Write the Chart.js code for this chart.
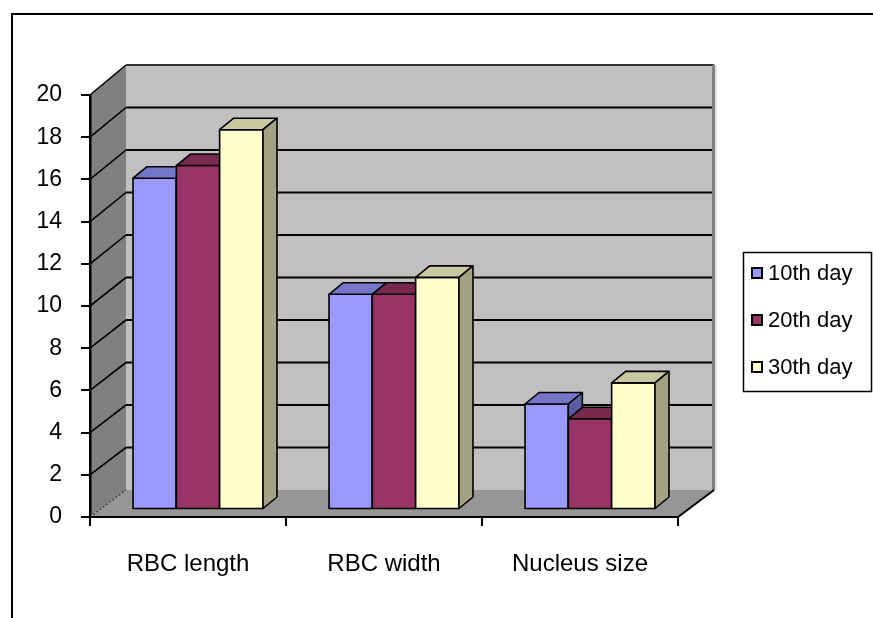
<!DOCTYPE html>
<html><head><meta charset="utf-8">
<script src="https://cdn.jsdelivr.net/npm/chart.js@4/dist/chart.umd.min.js"></script>
<style>html,body{margin:0;padding:0;background:#fff;overflow:hidden}canvas{display:block}</style>
</head><body>
<canvas id="c" width="873" height="618"></canvas>
<script>
// ---- data ----
const categories = ['RBC length', 'RBC width', 'Nucleus size'];
const seriesLabels = ['10th day', '20th day', '30th day'];
const day10 = [15.7, 10.2, 5.0];
const day20 = [16.3, 10.2, 4.3];
const day30 = [18.0, 11.0, 6.0];
const yMin = 0, yMax = 20, yStep = 2;

// ---- styles ----
const FONT = "'Liberation Sans', Arial, sans-serif";
const frontColors = ['#9999ff', '#993366', '#ffffcc'];
const topColors = ['#7676c8', '#76284f', '#c9c9a0'];
const sideColors = ['#5c5ca2', '#621f41', '#a3a383'];
const WALL_DX = 36, WALL_DY0 = 27, WALL_DY1 = 30;
const BAR_FRONT = {dx: 10, dy: -7.5};
const BAR_DEPTH = {dx: 14, dy: -11.5};

function backPt(chart, x, v) {
  const ys = chart.scales.y;
  const y = ys.getPixelForValue(v);
  const k = (v - ys.min) / (ys.max - ys.min);
  return [x + WALL_DX, y - (WALL_DY0 + (WALL_DY1 - WALL_DY0) * k)];
}
function poly(ctx, pts, fill, stroke, lw) {
  ctx.beginPath();
  pts.forEach((p, i) => i ? ctx.lineTo(p[0], p[1]) : ctx.moveTo(p[0], p[1]));
  ctx.closePath();
  if (fill) { ctx.fillStyle = fill; ctx.fill(); }
  if (stroke) { ctx.strokeStyle = stroke; ctx.lineWidth = lw || 1.6; ctx.stroke(); }
}
function line(ctx, x1, y1, x2, y2, col, lw) {
  ctx.beginPath(); ctx.moveTo(x1, y1); ctx.lineTo(x2, y2);
  ctx.strokeStyle = col; ctx.lineWidth = lw; ctx.stroke();
}

const walls3d = {
  id: 'walls3d',
  beforeDraw(chart) {
    const {ctx, chartArea: a, scales: {y: ys}} = chart;
    ctx.save();
    ctx.fillStyle = '#fff'; ctx.fillRect(0, 0, chart.width, chart.height);
    // outer frame
    ctx.beginPath(); ctx.moveTo(12, 640); ctx.lineTo(12, 14); ctx.lineTo(900, 14);
    ctx.strokeStyle = '#000'; ctx.lineWidth = 2; ctx.stroke();
    const vmin = ys.min, vmax = ys.max;
    const yfTop = ys.getPixelForValue(vmax), yfBot = ys.getPixelForValue(vmin);
    const [bl, bt] = backPt(chart, a.left, vmax);
    const [, bb] = backPt(chart, a.left, vmin);
    const [br] = backPt(chart, a.right, vmin);
    // back wall
    ctx.fillStyle = '#c0c0c0'; ctx.fillRect(bl, bt, br - bl, bb - bt);
    // side wall
    poly(ctx, [[a.left, yfTop], [bl, bt], [bl, bb], [a.left, yfBot]], '#808080');
    // floor
    poly(ctx, [[a.left, yfBot], [bl, bb], [br, bb], [a.right, yfBot]], '#969696');
    // grid lines
    for (let v = vmin; v <= vmax + 1e-9; v += yStep) {
      const yf = ys.getPixelForValue(v);
      const [xb, yb] = backPt(chart, a.left, v);
      if (v > vmin) {
        line(ctx, xb, yb, br, yb, v >= vmax ? '#333' : '#000', 2);
        line(ctx, a.left, yf, xb, yb, '#000', 1.6);
      } else {
        ctx.save(); ctx.setLineDash([2, 2]);
        line(ctx, a.left, yf, xb, yb, '#333', 1.2);
        ctx.restore();
      }
    }
    // back wall right edge
    ctx.fillStyle = '#808080'; ctx.fillRect(br - 2, bt, 3, bb - bt);
    ctx.fillStyle = '#e0e0e0'; ctx.fillRect(br + 1, bt, 2, bb - bt);
    // floor right edge
    line(ctx, a.right, yfBot, br, bb, '#000', 2);
    ctx.restore();
  },
  beforeDatasetsDraw(chart) {
    chart.ctx.save();
    chart.ctx.translate(BAR_FRONT.dx, BAR_FRONT.dy);
  },
  afterDatasetsDraw(chart) {
    const ctx = chart.ctx;
    ctx.lineJoin = 'round';
    // repaint in depth order: left to right within each category
    chart.data.datasets.forEach((ds, i) => {
      chart.getDatasetMeta(i).data.forEach(bar => {
        const {x, y, base, width} = bar.getProps(['x', 'y', 'base', 'width'], true);
        const L = x - width / 2, R = x + width / 2, T = y, B = base;
        const dx = BAR_DEPTH.dx, dy = BAR_DEPTH.dy;
        poly(ctx, [[L, T], [R, T], [R, B], [L, B]], frontColors[i], '#000', 1.6);
        poly(ctx, [[L, T], [R, T], [R + dx, T + dy], [L + dx, T + dy]], topColors[i], '#000', 1.6);
        poly(ctx, [[R, T], [R + dx, T + dy], [R + dx, B + dy], [R, B]], sideColors[i], '#000', 1.6);
      });
    });
    ctx.restore();
  },
  afterDraw(chart) {
    const ctx = chart.ctx;
    ctx.save();
    ctx.strokeStyle = '#000'; ctx.lineWidth = 1.5;
    ctx.strokeRect(743.5, 252.5, 128, 139);
    ctx.font = '22px ' + FONT; ctx.textBaseline = 'middle'; ctx.textAlign = 'left';
    chart.data.datasets.forEach((ds, i) => {
      const cy = 273 + i * 47;
      ctx.fillStyle = '#000'; ctx.fillRect(751, cy - 6, 12, 12);
      ctx.fillStyle = ds.backgroundColor; ctx.fillRect(753, cy - 4, 8, 8);
      ctx.fillStyle = '#000'; ctx.fillText(ds.label, 768, cy + 1);
    });
    ctx.restore();
  }
};

const seriesData = [day10, day20, day30];
new Chart(document.getElementById('c'), {
  type: 'bar',
  data: {
    labels: categories,
    datasets: seriesLabels.map((lab, i) => ({
      label: lab,
      data: seriesData[i],
      backgroundColor: frontColors[i],
      borderWidth: 0,
      categoryPercentage: 0.663,
      barPercentage: 1.0,
      clip: false
    }))
  },
  options: {
    responsive: false,
    animation: false,
    events: [],
    layout: {padding: {left: 12, right: 195, top: 95, bottom: 41}},
    plugins: {legend: {display: false}, tooltip: {enabled: false}},
    scales: {
      x: {
        grid: {drawOnChartArea: false, offset: true, tickLength: 9, color: '#000', lineWidth: 2},
        border: {color: '#000', width: 2},
        ticks: {color: '#000', font: {family: FONT, size: 24}, padding: 24},
        afterFit(s) { s.height = 60; }
      },
      y: {
        min: yMin, max: yMax,
        grid: {drawOnChartArea: false, tickLength: 9, color: '#000', lineWidth: 2},
        border: {color: '#000', width: 2.5},
        ticks: {stepSize: yStep, color: '#000', font: {family: FONT, size: 23}, padding: 19},
        afterFit(s) { s.width = 78; }
      }
    }
  },
  plugins: [walls3d]
});
</script>
</body></html>
